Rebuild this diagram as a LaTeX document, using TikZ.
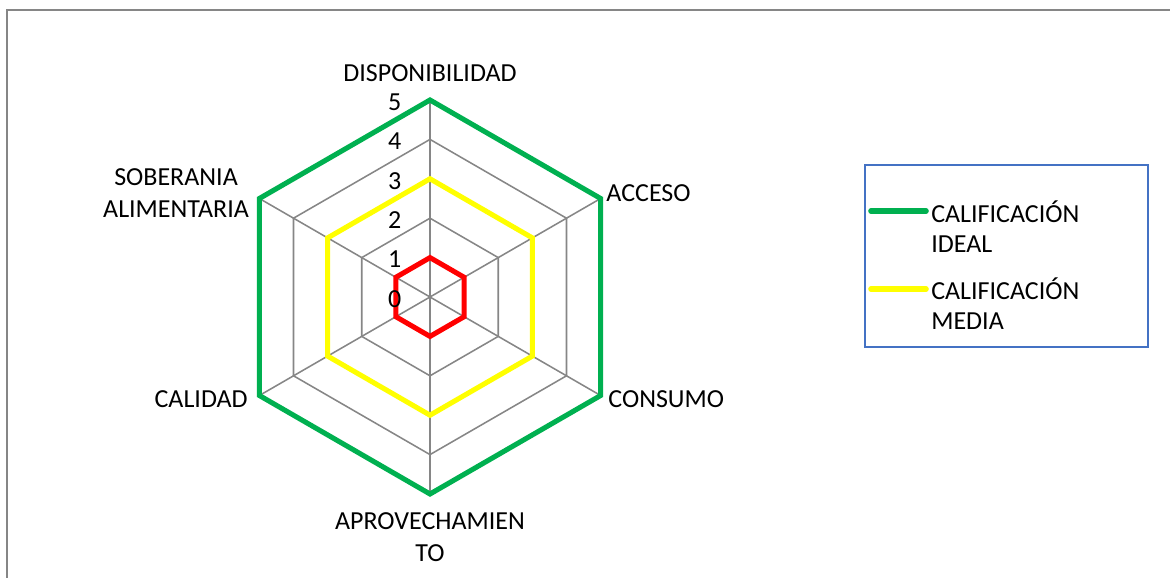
\documentclass[tikz,border=0pt]{standalone}
\usepackage{fontspec}
\setmainfont{Carlito}
\usetikzlibrary{positioning}
\definecolor{idealgreen}{RGB}{0,176,80}
\definecolor{mediayellow}{RGB}{255,255,0}
\definecolor{lowred}{RGB}{255,0,0}
\definecolor{gridgray}{RGB}{134,134,134}
\definecolor{legendblue}{RGB}{68,114,196}

\begin{document}
\begin{tikzpicture}[
    lbl/.style={font=\fontsize{18.5}{22.5}\selectfont, inner sep=0pt, align=center},
    leglbl/.style={font=\fontsize{18.5}{21.3}\selectfont, inner sep=0pt, align=left, anchor=base west},
    num/.style={font=\fontsize{18.5}{22.5}\selectfont, inner sep=0pt, anchor=east},
    gridline/.style={draw=gridgray, line width=1.1pt},
    series/.style={line width=3.6pt, line join=miter}
  ]
  \useasboundingbox (0,0) rectangle (29.25,14.425);
  \clip (0,0) rectangle (29.25,14.425);

  % Outer frame
  \draw[gridgray, line width=1.4pt] (0.175,-1) rectangle (30,14.175);

  \begin{scope}[shift={(10.75,7)}, scale=0.985]
    % Grid rings and spokes
    \foreach \r in {1,...,5}
      \draw[gridline] (90:\r) -- (30:\r) -- (-30:\r) -- (-90:\r) -- (210:\r) -- (150:\r) -- cycle;
    \foreach \a in {90,30,-30,-90,210,150}
      \draw[gridline] (0,0) -- (\a:5);

    % Series
    \draw[series, idealgreen] (90:5) -- (30:5) -- (-30:5) -- (-90:5) -- (210:5) -- (150:5) -- cycle;
    \draw[series, mediayellow] (90:3) -- (30:3) -- (-30:3) -- (-90:3) -- (210:3) -- (150:3) -- cycle;
    \draw[series, lowred] (90:1) -- (30:1) -- (-30:1) -- (-90:1) -- (210:1) -- (150:1) -- cycle;

    % Axis values
    \foreach \r in {0,...,5}
      \node[num] (v\r) at (-0.72,\r-0.05) {\r};

    % Axis labels
    \node[lbl] (disp) at (0,5.69) {DISPONIBILIDAD};
    \node[lbl, anchor=west] (acc) at (4.47,2.64) {ACCESO};
    \node[lbl, anchor=west] (cons) at (4.52,-2.59) {CONSUMO};
    \node[lbl] (aprov) at (0,-6.09) {APROVECHAMIEN\\TO};
    \node[lbl, anchor=east] (cal) at (-4.62,-2.59) {CALIDAD};
    \node[lbl, anchor=east] (sob) at (-4.59,2.64) {SOBERANIA\\ALIMENTARIA};
  \end{scope}

  % Legend
  \node[draw=legendblue, line width=1pt, minimum width=7.075cm, minimum height=4.55cm, inner sep=0pt] (legend) at (25.1625,8.025) {};
  \draw[series, idealgreen, line cap=round, line width=4pt] (21.775,9.15) -- (23.15,9.15);
  \draw[series, mediayellow, line cap=round, line width=4pt] (21.775,7.2) -- (23.15,7.2);
  \node[leglbl] (ideal) at (23.275,8.125) {CALIFICACIÓN\\IDEAL};
  \node[leglbl] (media) at (23.275,6.2) {CALIFICACIÓN\\MEDIA};
\end{tikzpicture}
\end{document}
